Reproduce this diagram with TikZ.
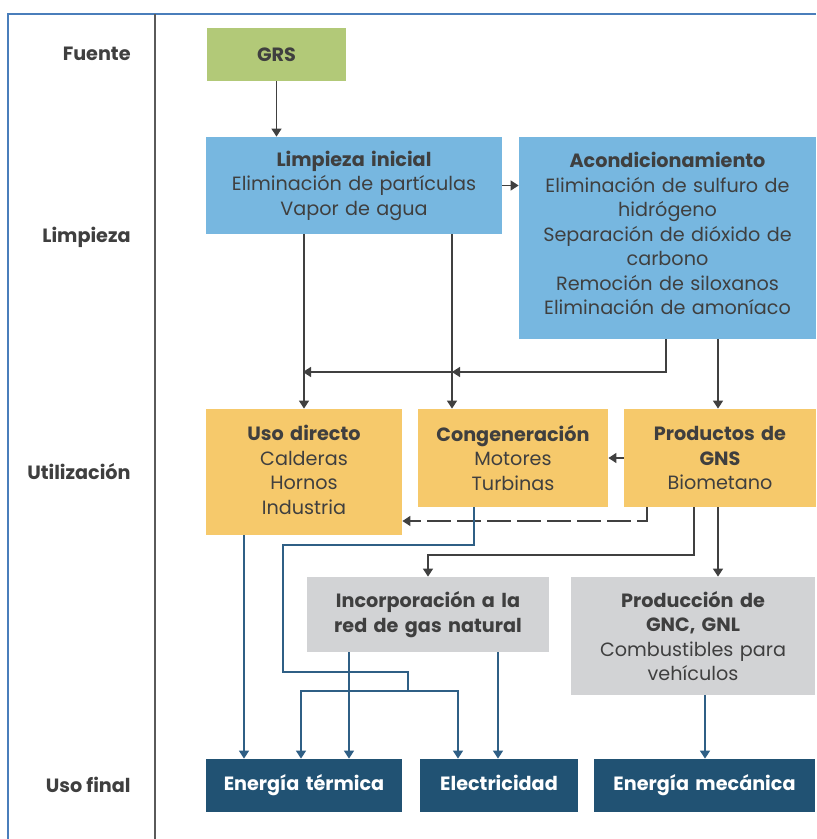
\documentclass[tikz,border=0pt]{standalone}
\usepackage{fontspec}
\setmainfont{Poppins}
\usetikzlibrary{arrows.meta,positioning}
\definecolor{framecol}{HTML}{4A7EBB}
\definecolor{rulecol}{HTML}{5A5A5A}
\definecolor{grsgreen}{HTML}{B2C978}
\definecolor{cleanblue}{HTML}{77B7E0}
\definecolor{useorange}{HTML}{F6C96B}
\definecolor{prodgray}{HTML}{D2D3D5}
\definecolor{endblue}{HTML}{215273}
\definecolor{arrgray}{HTML}{404040}
\definecolor{linkblue}{HTML}{2F5F85}
\definecolor{txt}{HTML}{3F3F3F}
\tikzstyle{box}=[inner sep=0pt,align=center,text=txt,
  font=\fontsize{9.6pt}{12.25pt}\selectfont]
\tikzstyle{endbox}=[box,fill=endblue,text=white,minimum height=26.5pt,
  text height=7pt,text depth=2.5pt,
  font=\fontsize{9.6pt}{12.25pt}\selectfont\bfseries]
\tikzstyle{stage}=[anchor=east,inner sep=0pt,text=txt,font=\fontsize{9.6pt}{12.25pt}\selectfont\bfseries]
\tikzstyle{arr}=[draw=arrgray,line width=0.8pt,-{Triangle[width=5pt,length=4pt]}]
\tikzstyle{barr}=[draw=linkblue,line width=0.8pt,-{Triangle[width=5pt,length=4pt]}]

\begin{document}
\begin{tikzpicture}[x=0.5pt,y=-0.5pt]
        \useasboundingbox (0,0) rectangle (816,839);
        \draw[framecol,line width=1pt] (816,14) -- (8,14) -- (8,839);
        \draw[rulecol,line width=0.8pt] (155,14) -- (155,839);

        \node[stage] at (131,54) (fuente) {Fuente};
        \node[stage] at (131,237) (limpieza) {Limpieza};
        \node[stage] at (131,472) (utiliz) {Utilización};
        \node[stage] at (131,785) (usofinal) {Uso final};

        \node[box,fill=grsgreen,text width=69.5pt,minimum height=26.5pt] at (276.5,54.5) (grs) {\textbf{GRS}};

        \node[box,fill=cleanblue,text width=148pt,minimum height=48.5pt] at (354,185.5) (limp)
          {\textbf{Limpieza inicial}\\Eliminación de partículas\\Vapor de agua};
        \node[box,fill=cleanblue,text width=148.5pt,minimum height=101pt] at (667.5,238) (acond)
          {\textbf{Acondicionamiento}\\Eliminación de sulfuro de\\hidrógeno\\Separación de dióxido de\\carbono\\Remoción de siloxanos\\Eliminación de amoníaco\par\vspace{4.5pt}};

        \node[box,fill=useorange,text width=98pt,minimum height=63pt] at (304,472) (uso)
          {\textbf{Uso directo}\\Calderas\\Hornos\\Industria\par\vspace{2pt}};
        \node[box,fill=useorange,text width=95pt,minimum height=49pt] at (513,458) (cog)
          {\textbf{Congeneración}\\Motores\\Turbinas};
        \node[box,fill=useorange,text width=96pt,minimum height=49pt] at (720,458) (gns)
          {\textbf{Productos de}\\\textbf{GNS}\\Biometano};

        \node[box,fill=prodgray,text width=121pt,minimum height=37.5pt] at (428,614.5) (red)
          {\textbf{Incorporación a la}\\\textbf{red de gas natural}};
        \node[box,fill=prodgray,text width=122pt,minimum height=59pt] at (693,636) (gnc)
          {\textbf{Producción de}\\\textbf{GNC, GNL}\\Combustibles para\\vehículos};

        \node[endbox,text width=98pt] at (304,785.5) (term) {Energía térmica};
        \node[endbox,text width=79pt] at (499,785.5) (elec) {Electricidad};
        \node[endbox,text width=110.5pt] at (704.5,785.5) (mec) {Energía mecánica};

        \coordinate (m1) at (452,372);
        \coordinate (m2) at (303,372);
        \coordinate (split) at (408,691);

        % gas cleaning
        \draw[arr] (grs.south) -- (grs.south |- limp.north);
        \draw[arr] (limp.east) -- (acond.west |- limp.east);
        \draw[arr] (limp.south -| uso.north) -- (uso.north);
        \draw[arr] (limp.south -| 452,0) -- (cog.north -| 452,0);
        \draw[arr] (acond.south -| 666,0) |- (m1);
        \draw[arr] (m1) -- (m2);
        \draw[arr] (acond.south -| 718,0) -- (gns.north -| 718,0);

        % utilization
        \draw[arr] (gns.west) -- (cog.east);
        \draw[arr,dash pattern=on 12pt off 3pt] (gns.south -| 647,0) |- (uso.east |- 0,521);
        \draw[arr] (gns.south -| 694,0) |- (428,555) -- (red.north);
        \draw[arr] (gns.south -| 718,0) -- (gnc.north -| 718,0);

        % final use
        \draw[barr] (uso.south -| 244,0) -- (term.north -| 244,0);
        \draw[barr] (cog.south -| 474,0) |- (283,545) |- (408,672) -- (split) -| (term.north -| 301,0);
        \draw[barr] (split) -| (elec.north -| 458,0);
        \draw[barr] (red.south -| 349,0) -- (term.north -| 349,0);
        \draw[barr] (red.south -| 498,0) -- (elec.north -| 498,0);
        \draw[barr] (gnc.south -| 705,0) -- (mec.north -| 705,0);
      \end{tikzpicture}
\end{document}
